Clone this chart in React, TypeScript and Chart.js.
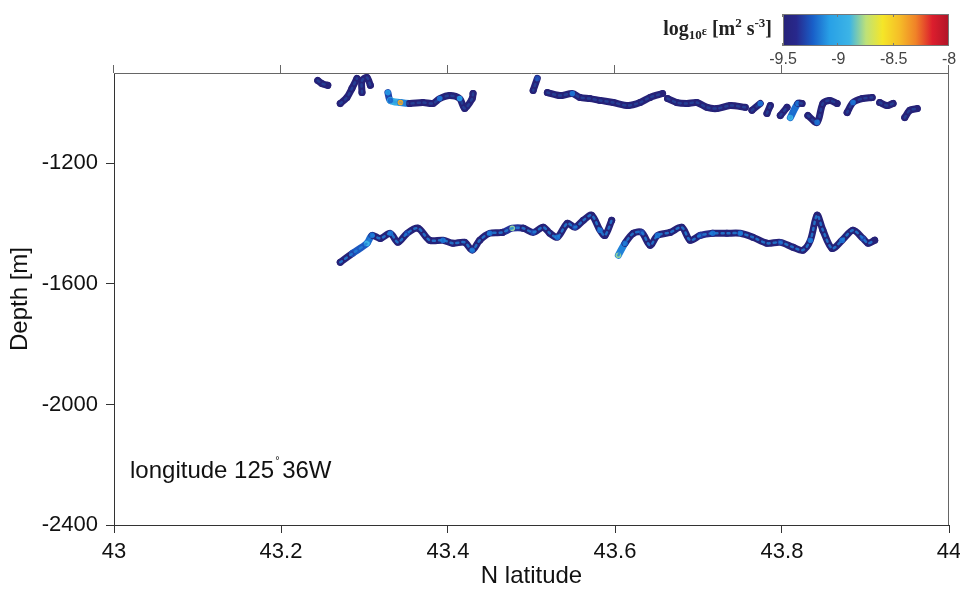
import { useEffect, useRef } from "react";
import { Chart, registerables } from "chart.js";

Chart.register(...registerables);

// ---- axes ----
const latTicks = [43, 43.2, 43.4, 43.6, 43.8, 44];
const depthTicks = [-1200, -1600, -2000, -2400];
const epsTicks = [-9.5, -9, -8.5, -8];

// ---- upper track (null = gap between fragments) ----
const upperLat = [43.244, 43.249, 43.256, null, 43.271, 43.279, 43.285, 43.291, null, 43.297, 43.297, 43.303, 43.307, null,
  43.328, 43.331, 43.343, 43.354, 43.37, 43.382, 43.39, 43.402, 43.414, 43.42, 43.429, 43.43, null, 43.507, 43.502, null,
  43.519, 43.534, 43.549, 43.558, 43.57, 43.582, 43.598, 43.616, 43.63, 43.642, 43.657, null,
  43.663, 43.674, 43.686, 43.698, 43.71, 43.722, 43.738, 43.756, null, 43.764, 43.774, null, 43.782, 43.786, null,
  43.798, 43.806, null, 43.81, 43.819, 43.824, null, 43.831, 43.842, 43.849, 43.857, 43.866, null,
  43.878, 43.885, 43.896, 43.908, null, 43.917, 43.926, 43.933, null, 43.947, 43.953, 43.962];
const upperDepth = [-925, -935, -941, null, -1001, -981, -951, -918, null, -965, -925, -915, -941, null,
  -965, -991, -998, -1001, -998, -1001, -985, -975, -985, -1018, -985, -968, null, -918, -958, null,
  -965, -975, -968, -981, -985, -991, -998, -1008, -998, -981, -968, null,
  -985, -998, -1001, -998, -1014, -1018, -1008, -1014, null, -1024, -1001, null, -1034, -1008, null,
  -1041, -1014, null, -1048, -1001, -1001, null, -1041, -1064, -1001, -991, -1001, null,
  -1031, -998, -985, -981, null, -998, -1008, -1001, null, -1048, -1024, -1018];
const upperEps = [-9.6, -9.6, -9.6, null, -9.6, -9.6, -9.6, -9.6, null, -9.6, -9.6, -9.6, -9.6, null,
  -9.1, -9.2, -8.4, -9.6, -9.6, -9.5, -9.2, -9.6, -9.1, -9.6, -9.6, -9.6, null, -9.3, -9.6, null,
  -9.6, -9.6, -9.2, -9.6, -9.6, -9.6, -9.6, -9.6, -9.6, -9.6, -9.6, null,
  -9.6, -9.6, -9.6, -9.6, -9.6, -9.6, -9.6, -9.6, null, -9.6, -9.2, null, -9.6, -9.6, null,
  -9.6, -9.6, null, -8.9, -9.2, -9.6, null, -9.6, -9.2, -9.6, -9.6, -9.6, null,
  -9.6, -9.2, -9.6, -9.6, null, -9.6, -9.6, -9.6, null, -9.6, -9.6, -9.6];

// ---- lower track ----
const lowerLat = [43.271, 43.286, 43.303, 43.309, 43.319, 43.331, 43.34, 43.351, 43.364, 43.378, 43.394, 43.406, 43.42,
  43.429, 43.438, 43.45, 43.465, 43.477, 43.49, 43.502, 43.514, 43.522, 43.531, 43.543, 43.552, 43.562, 43.572, 43.582,
  43.588, 43.596, null,
  43.604, 43.612, 43.622, 43.632, 43.642, 43.651, 43.666, 43.68, 43.69, 43.702, 43.717, 43.734, 43.75, 43.765, 43.782,
  43.798, 43.813, 43.825, 43.834, 43.842, 43.849, 43.86, 43.872, 43.885, 43.897, 43.903, 43.911];
const lowerDepth = [-1528, -1498, -1465, -1439, -1449, -1432, -1462, -1432, -1415, -1455, -1455, -1465, -1462,
  -1488, -1455, -1432, -1429, -1415, -1415, -1429, -1412, -1432, -1445, -1399, -1412, -1389, -1372, -1422,
  -1439, -1389, null,
  -1505, -1465, -1432, -1429, -1472, -1439, -1429, -1412, -1455, -1439, -1432, -1432, -1432, -1445, -1465,
  -1462, -1478, -1488, -1455, -1372, -1422, -1482, -1455, -1422, -1449, -1465, -1455];
const lowerEps = [-9.6, -9.3, -8.9, -9.2, -9.6, -9.2, -9.6, -9.3, -9.6, -9.6, -9.2, -9.6, -9.5,
  -9.2, -9.6, -9.2, -9.6, -8.8, -9.6, -9.3, -9.6, -9.6, -9.2, -9.6, -9.3, -9.6, -9.6, -9.2,
  -9.6, -9.6, null,
  -8.8, -9.2, -9.6, -9.3, -9.6, -9.2, -9.6, -9.6, -9.6, -9.3, -9.2, -9.6, -9.2, -9.6, -9.6,
  -9.3, -9.6, -9.6, -9.2, -9.6, -9.6, -9.6, -9.2, -9.6, -9.3, -9.6, -9.6];

// ---- colormap ----
const cmapStops: [number, number[]][] = [
  [0, [38, 34, 120]], [0.08, [40, 40, 140]], [0.18, [25, 95, 200]], [0.28, [40, 160, 230]],
  [0.4, [60, 180, 230]], [0.5, [190, 225, 120]], [0.6, [245, 230, 40]], [0.7, [245, 190, 40]],
  [0.8, [240, 130, 40]], [0.9, [220, 30, 45]], [1, [175, 20, 40]],
];
function cmap(e: number, alpha = 1) {
  const t = Math.max(0, Math.min(1, (e - epsTicks[0]) / (epsTicks[epsTicks.length - 1] - epsTicks[0])));
  let c = cmapStops[cmapStops.length - 1][1];
  for (let i = 1; i < cmapStops.length; i++) {
    const [t1, c1] = cmapStops[i];
    const [t0, c0] = cmapStops[i - 1];
    if (t <= t1) {
      const f = (t - t0) / (t1 - t0);
      c = c0.map((v, k) => Math.round(v + (c1[k] - v) * f));
      break;
    }
  }
  return `rgba(${c[0]},${c[1]},${c[2]},${alpha})`;
}

function fragments(lat: (number | null)[], dep: (number | null)[], eps: (number | null)[]) {
  const out: { pts: { x: number; y: number }[]; e: number[] }[] = [];
  let cur = { pts: [] as { x: number; y: number }[], e: [] as number[] };
  for (let i = 0; i < lat.length; i++) {
    if (lat[i] === null || dep[i] === null || eps[i] === null) {
      if (cur.pts.length) out.push(cur);
      cur = { pts: [], e: [] };
    } else {
      cur.pts.push({ x: lat[i] as number, y: dep[i] as number });
      cur.e.push(eps[i] as number);
    }
  }
  if (cur.pts.length) out.push(cur);
  return out;
}

const SANS = "'Liberation Sans', Arial, Helvetica, sans-serif";
const SERIF = "'Liberation Serif', 'Times New Roman', serif";

const decorPlugin = {
  id: "decor",
  afterDraw(chart: any) {
    const { ctx, chartArea: a, scales } = chart;
    const xs = scales.x;
    ctx.save();
    // top + right frame, top ticks
    ctx.strokeStyle = "#666";
    ctx.lineWidth = 1;
    ctx.beginPath();
    ctx.moveTo(a.left, a.top + 0.5);
    ctx.lineTo(a.right, a.top + 0.5);
    ctx.moveTo(a.right - 0.5, a.top);
    ctx.lineTo(a.right - 0.5, a.bottom);
    for (const t of latTicks) {
      const px = Math.round(xs.getPixelForValue(t)) - 0.5;
      ctx.moveTo(px, a.top);
      ctx.lineTo(px, a.top - 8);
    }
    ctx.stroke();

    // annotation
    ctx.fillStyle = "#111";
    ctx.textBaseline = "alphabetic";
    ctx.textAlign = "left";
    ctx.font = `24px ${SANS}`;
    let tx = 130;
    const ty = 478;
    const s1 = "longitude 125";
    ctx.fillText(s1, tx, ty);
    tx += ctx.measureText(s1).width;
    ctx.font = `11px ${SANS}`;
    ctx.fillText("°", tx + 1, ty - 14);
    tx += 8;
    ctx.font = `24px ${SANS}`;
    ctx.fillText("36W", tx, ty);

    // colorbar
    const cbL = 783, cbR = 949, cbT = 14, cbB = 46;
    const g = ctx.createLinearGradient(cbL, 0, cbR, 0);
    for (const [t, c] of cmapStops) g.addColorStop(t, `rgb(${c[0]},${c[1]},${c[2]})`);
    ctx.fillStyle = g;
    ctx.fillRect(cbL, cbT, cbR - cbL, cbB - cbT);
    ctx.strokeStyle = "#777";
    ctx.strokeRect(cbL + 0.5, cbT + 0.5, cbR - cbL - 1, cbB - cbT - 1);
    ctx.beginPath();
    for (const v of epsTicks) {
      const px = cbL + ((v - epsTicks[0]) / (epsTicks[3] - epsTicks[0])) * (cbR - cbL);
      const p = Math.round(px) - 0.5;
      ctx.moveTo(p, cbT);
      ctx.lineTo(p, cbT + 3);
      ctx.moveTo(p, cbB);
      ctx.lineTo(p, cbB - 3);
    }
    ctx.stroke();
    ctx.fillStyle = "#444";
    ctx.font = `16px ${SANS}`;
    ctx.textAlign = "center";
    ctx.textBaseline = "middle";
    for (const v of epsTicks) {
      const px = cbL + ((v - epsTicks[0]) / (epsTicks[3] - epsTicks[0])) * (cbR - cbL);
      ctx.fillText(String(v), px, 60);
    }

    // colorbar title: log10ε [m2 s-3]
    const parts: [string, string, number][] = [
      ["log", `bold 20px ${SERIF}`, 0],
      ["10", `bold 13px ${SERIF}`, 4],
      ["ε", `bold 12px ${SERIF}`, 0],
      [" [m", `bold 20px ${SERIF}`, 0],
      ["2", `bold 13px ${SERIF}`, -8],
      [" s", `bold 20px ${SERIF}`, 0],
      ["-3", `bold 13px ${SERIF}`, -8],
      ["]", `bold 20px ${SERIF}`, 0],
    ];
    let total = 0;
    for (const [s, f] of parts) {
      ctx.font = f;
      total += ctx.measureText(s).width;
    }
    let cx = 772 - total;
    ctx.fillStyle = "#222";
    ctx.textAlign = "left";
    ctx.textBaseline = "alphabetic";
    for (const [s, f, dy] of parts) {
      ctx.font = f;
      ctx.fillText(s, cx, 35 + dy);
      cx += ctx.measureText(s).width;
    }
    ctx.restore();
  },
};

export default function App() {
  const ref = useRef<HTMLCanvasElement | null>(null);
  useEffect(() => {
    if (!ref.current) return;
    const upper = fragments(upperLat, upperDepth, upperEps);
    const lower = fragments(lowerLat, lowerDepth, lowerEps);
    const base = (f: { pts: { x: number; y: number }[]; e: number[] }) => ({
      data: f.pts,
      showLine: true,
      borderColor: cmap(-9.6),
      borderWidth: 7,
      borderCapStyle: "round" as const,
      borderJoinStyle: "round" as const,
      tension: 0.3,
      pointRadius: f.e.map((e) => (e > -9.4 ? 2.8 : 3.5)),
      pointBorderWidth: 0,
      pointBackgroundColor: f.e.map((e) => cmap(e)),
      segment: {
        borderColor: (c: any) => cmap((f.e[c.p0DataIndex] + f.e[c.p1DataIndex]) / 2 - 0.15),
      },
      order: 2,
    });
    // speckle overlay: lighter-blue dashes inside the band
    const speckle = (f: { pts: { x: number; y: number }[]; e: number[] }, a: number) => ({
      data: f.pts,
      showLine: true,
      borderColor: cmap(-9.15, a),
      borderWidth: 2.5,
      borderDash: [2, 4],
      borderCapStyle: "round" as const,
      tension: 0.3,
      pointRadius: 0,
      order: 1,
    });
    const datasets = [
      ...upper.map(base),
      ...lower.map(base),
      ...lower.map((f) => speckle(f, 0.8)),
      ...upper.map((f) => speckle(f, 0.3)),
    ];
    const chart = new Chart(ref.current, {
      type: "scatter",
      data: { datasets },
      plugins: [decorPlugin],
      options: {
        animation: false,
        responsive: false,
        layout: { padding: { top: 73, right: 11, left: 0, bottom: 0 } },
        plugins: { legend: { display: false }, tooltip: { enabled: false } },
        scales: {
          x: {
            type: "linear",
            min: 43,
            max: 44,
            afterBuildTicks: (s: any) => {
              s.ticks = latTicks.map((v) => ({ value: v }));
            },
            afterFit: (s: any) => {
              s.height = 67;
              s.paddingLeft = 0;
              s.paddingRight = 0;
            },
            ticks: {
              callback: (v: any) => String(Number(v)),
              color: "#111",
              font: { family: SANS, size: 22 },
              padding: 6,
              maxRotation: 0,
            },
            grid: { drawOnChartArea: false, drawTicks: true, tickLength: 8, color: "#333" },
            border: { display: true, color: "#333", width: 1 },
            title: {
              display: true,
              text: "N latitude",
              color: "#111",
              font: { family: SANS, size: 24 },
              padding: { top: 0, bottom: 1 },
            },
          },
          y: {
            type: "linear",
            min: -2400,
            max: -900,
            afterBuildTicks: (s: any) => {
              s.ticks = depthTicks.map((v) => ({ value: v }));
            },
            afterFit: (s: any) => {
              s.width = 114;
              s.paddingTop = 0;
              s.paddingBottom = 0;
            },
            ticks: {
              callback: (v: any) => String(v),
              color: "#111",
              font: { family: SANS, size: 22 },
              padding: 8,
            },
            grid: { drawOnChartArea: false, drawTicks: true, tickLength: 8, color: "#333" },
            border: { display: true, color: "#333", width: 1 },
            title: {
              display: true,
              text: "Depth [m]",
              color: "#111",
              font: { family: SANS, size: 24 },
              padding: { top: 6, bottom: 0 },
            },
          },
        },
      },
    });
    return () => chart.destroy();
  }, []);
  return (
    <div style={{ position: "fixed", left: 0, top: 0, width: 960, height: 592, background: "#fff" }}>
      <canvas ref={ref} width={960} height={592} style={{ display: "block" }} />
    </div>
  );
}
